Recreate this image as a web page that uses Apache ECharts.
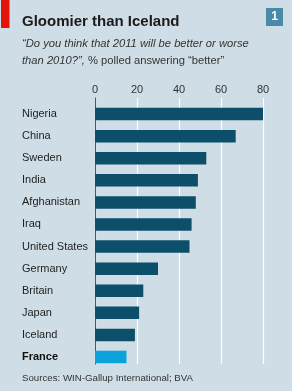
<!DOCTYPE html>
<html>
<head>
<meta charset="utf-8">
<script src="https://cdn.jsdelivr.net/npm/echarts@6/dist/echarts.min.js"></script>
<style>
  html, body { margin: 0; padding: 0; background: #cfdde6; }
  #main { width: 292px; height: 391px; }
</style>
</head>
<body>
<div id="main"></div>
<script>
// data
var countries = ['Nigeria', 'China', 'Sweden', 'India', 'Afghanistan', 'Iraq',
  'United States', 'Germany', 'Britain', 'Japan', 'Iceland', 'France'];
var betterPct = [80, 67, 53, 49, 48, 46, 45, 30, 23, 21, 19, 15];
var highlight = 'France';
var ticks = [0, 20, 40, 60, 80];

var font = '"Liberation Sans", Arial, sans-serif';
var dark = '#0d4f6a';
var light = '#0ca3dc';

function catData() {
  return countries.map(function (c) {
    if (c === highlight) return { value: c, textStyle: { fontWeight: 'bold', color: '#111', align: 'left' } };
    return c;
  });
}

function barData() {
  return betterPct.map(function (v, i) {
    return {
      value: v,
      itemStyle: { color: countries[i] === highlight ? light : dark }
    };
  });
}

var chart = echarts.init(document.getElementById('main'));

var option = {
  backgroundColor: '#cfdde6',
  animation: false,
  title: [
    {
      text: 'Gloomier than Iceland',
      left: 22, top: 12, padding: 0,
      textStyle: { fontFamily: font, fontWeight: 'bold', fontSize: 15, lineHeight: 20, color: '#1a1a1a' }
    },
    {
      text: '{i|“Do you think that 2011 will be better or worse}\n{i|than 2010?”,}{n| % polled answering “better”}',
      left: 22, top: 35, padding: 0,
      textStyle: {
        rich: {
          i: { fontFamily: font, fontStyle: 'italic', fontWeight: 'normal', fontSize: 11.2, lineHeight: 17, color: '#333' },
          n: { fontFamily: font, fontWeight: 'normal', fontSize: 11.2, lineHeight: 17, color: '#333' }
        }
      }
    },
    {
      text: 'Sources: WIN-Gallup International; BVA',
      left: 22, top: 371, padding: 0,
      textStyle: { fontFamily: font, fontWeight: 'normal', fontSize: 9.7, lineHeight: 14, color: '#333' }
    }
  ],
  graphic: [
    { type: 'rect', shape: { x: 1, y: 0, width: 8.5, height: 28 }, style: { fill: '#e3120b' } },
    { type: 'rect', shape: { x: 266, y: 8, width: 17, height: 18 }, style: { fill: '#4a89a7' } },
    { type: 'text', x: 274.5, y: 17, style: { text: '1', fill: '#fff', font: 'bold 12px ' + font, align: 'center', verticalAlign: 'middle' } }
  ],
  grid: [
    // grid for the white gridlines and the axis line
    { left: 95, right: 29, top: 98, bottom: 27, outerBoundsMode: 'none', containLabel: false },
    // grid for the bars and country names
    { left: 95, right: 29, top: 103, bottom: 23, outerBoundsMode: 'none', containLabel: false }
  ],
  xAxis: [
    {
      gridIndex: 0, type: 'value', position: 'top', min: 0, max: 80, interval: 20,
      axisLine: { show: false }, axisTick: { show: false },
      axisLabel: { margin: 3, color: '#333', fontFamily: font, fontSize: 11,
        formatter: function (v) { return ticks.indexOf(v) >= 0 ? v : ''; } },
      splitLine: { lineStyle: { color: '#ffffff', width: 1.2 } }
    },
    { gridIndex: 1, type: 'value', min: 0, max: 80, show: false }
  ],
  yAxis: [
    {
      gridIndex: 0, type: 'value', min: 0, max: 1,
      axisLine: { show: true, lineStyle: { color: '#555', width: 1 } },
      axisTick: { show: false }, axisLabel: { show: false }, splitLine: { show: false }
    },
    {
      gridIndex: 1, type: 'category', inverse: true, data: catData(),
      axisLine: { show: false }, axisTick: { show: false },
      axisLabel: { align: 'left', margin: 73, color: '#1e1e1e', fontFamily: font, fontSize: 11 }
    }
  ],
  series: [
    {
      type: 'bar', xAxisIndex: 1, yAxisIndex: 1,
      barWidth: 12.5,
      data: barData()
    }
  ]
};

chart.setOption(option);
</script>
</body>
</html>
